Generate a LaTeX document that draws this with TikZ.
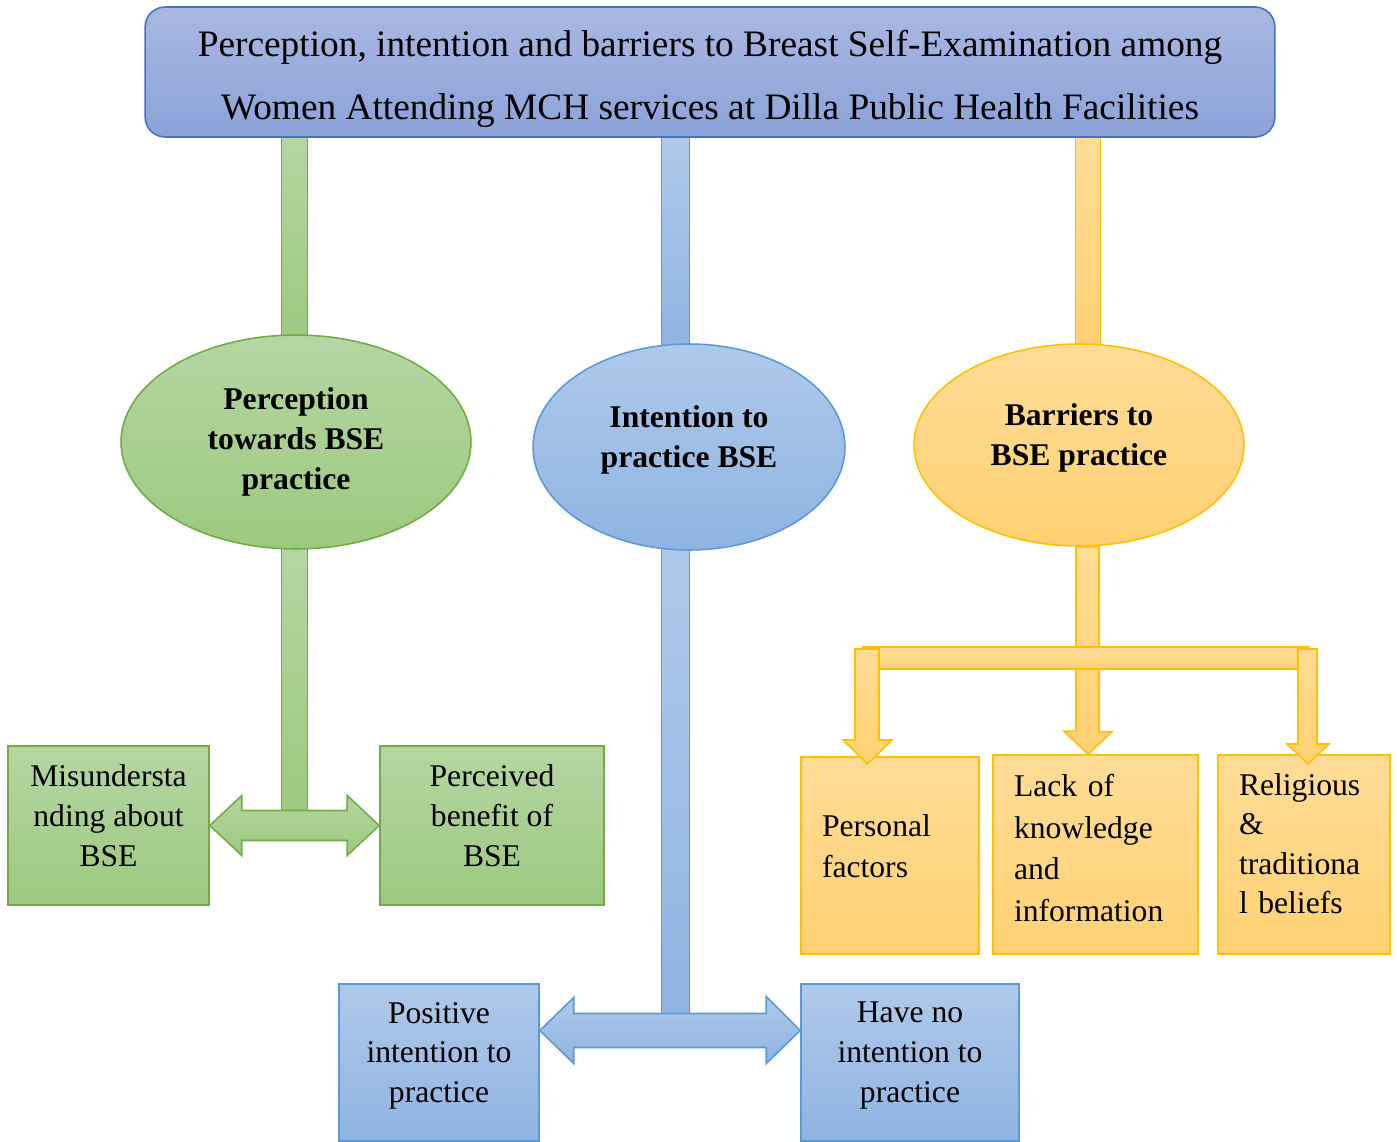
\documentclass[tikz,border=0pt]{standalone}
\usepackage{fontspec}
\setmainfont{Liberation Serif}
\usetikzlibrary{calc,backgrounds,shapes.geometric}

\definecolor{gline}{HTML}{70AD47}
\definecolor{gtop}{HTML}{B5D6A2}
\definecolor{gbot}{HTML}{9CC97F}
\definecolor{bline}{HTML}{5B9BD5}
\definecolor{btop}{HTML}{AFC9EA}
\definecolor{bbot}{HTML}{8FB4E2}
\definecolor{yline}{HTML}{FFC000}
\definecolor{ytop}{HTML}{FFDC97}
\definecolor{ybot}{HTML}{FFD173}
\definecolor{tline}{HTML}{4472C4}
\definecolor{ttop}{HTML}{A9B8E2}
\definecolor{tbot}{HTML}{8BA2D9}

\begin{document}
\begin{tikzpicture}[x=0.02cm,y=-0.02cm,line width=0.9pt,
    gfill/.style={draw=gline,top color=gtop,bottom color=gbot},
    bfill/.style={draw=bline,top color=btop,bottom color=bbot},
    yfill/.style={draw=yline,top color=ytop,bottom color=ybot},
    topic/.style={ellipse,inner sep=0pt,align=center,font=\fontsize{18}{22.7}\selectfont\bfseries},
    leaf/.style={rectangle,inner sep=0pt,align=center,text depth=11.4pt,
      font=\fontsize{18}{22.7}\selectfont},
    yleaf/.style={rectangle,yfill,inner xsep=12pt,inner ysep=0pt,align=left,
      minimum height=3.98cm,font=\fontsize{18}{23.7}\selectfont}]
  \useasboundingbox (0,0) rectangle (1397,1142);

  % title
  \node[draw=tline,top color=ttop,bottom color=tbot,rounded corners=0.4cm,
    minimum width=22.6cm,minimum height=2.6cm,align=center,text height=54pt,text depth=0pt,
    font=\fontsize{21.25}{35.7}\selectfont] (title) at (710,72)
    {Perception, intention and barriers to Breast Self-Examination among\\
     Women Attending MCH services at Dilla Public Health Facilities};

  % the three themes
  \node[topic,gfill,minimum width=7cm,minimum height=4.28cm] (perc) at (296,442)
    {Perception\\towards BSE\\practice};
  \node[topic,bfill,minimum width=6.24cm,minimum height=4.12cm,text depth=11.9pt] (intent) at (689,447)
    {Intention to\\practice BSE};
  \node[topic,yfill,minimum width=6.6cm,minimum height=4.04cm,text depth=11.9pt] (barr) at (1079,445)
    {Barriers to\\BSE practice};

  % sub-themes
  \node[leaf,gfill,minimum width=4.02cm,minimum height=3.18cm] (misu) at (108.5,825.5)
    {Misundersta\\nding about\\BSE};
  \node[leaf,gfill,minimum width=4.48cm,minimum height=3.18cm] (bene) at (492,825.5)
    {Perceived\\benefit of\\BSE};
  \node[leaf,bfill,minimum width=4cm,minimum height=3.14cm] (pos) at (439,1062.5)
    {Positive\\intention to\\practice};
  \node[leaf,bfill,minimum width=4.36cm,minimum height=3.14cm] (noint) at (910,1062.5)
    {Have no\\intention to\\practice};
  \node[yleaf,text width=2.72cm,minimum height=3.94cm,text depth=34.5pt] (pers) at (890,855.5)
    {Personal\\factors};
  \node[yleaf,text width=3.26cm,text depth=78.5pt] (lack) at (1095.5,854.5)
    {Lack of\\knowledge\\and\\information};
  \node[yleaf,text width=2.6cm,text depth=79.4pt,font=\fontsize{18}{22.3}\selectfont] (reli) at (1304,854.5)
    {Religious\\\&\\traditiona\\l beliefs};

  \coordinate (split) at (1086,658);

  \begin{scope}[on background layer]
    \draw[gfill] ($(title.south -| perc.north)+(-15,-5)$) rectangle ($(perc.north)+(11,5)$);
    \draw[gfill] ($(perc.south)+(-15,-5)$) rectangle ($(perc.south)+(11,261)$);
    \draw[bfill] ($(title.south -| intent.north)+(-28,-5)$) rectangle ($(intent.north)+(0,5)$);
    \draw[bfill] ($(intent.south)+(-28,-5)$) rectangle ($(intent.south)+(0,464)$);
    \draw[yfill] ($(title.south -| barr.north)+(-4,-5)$) rectangle ($(barr.north)+(21,5)$);
  \end{scope}

  % double arrows
  \draw[gfill] (misu.east) -- ++(32,-30) -- ++(0,15) -- ($(bene.west)+(-32,-15)$)
    -- ++(0,-15) -- (bene.west) -- ++(-32,30) -- ++(0,-15)
    -- ($(misu.east)+(32,15)$) -- ++(0,15) -- cycle;
  \draw[bfill] ($(pos.east)+(0,-32)$) -- ++(34,-33) -- ++(0,16) -- ($(noint.west)+(-34,-49)$)
    -- ++(0,-17) -- ($(noint.west)+(0,-32)$) -- ++(-34,33) -- ++(0,-16)
    -- ($(pos.east)+(34,-15)$) -- ++(0,16) -- cycle;

  % barriers split
  \draw[yfill] ($(barr.south)+(-3,0)$) -- ++(23,0) -- ++(0,185) -- ++(13,0)
    -- ($(lack.north)+(-7.5,0)$) -- ++(-24,-23) -- ++(12,0) -- cycle;
  \draw[yfill] ($(split)+(-223,-11)$) rectangle ($(split)+(223,11)$);
  \draw[yfill] ($(split)+(-231,-9)$) -- ++(24,0) -- ++(0,91) -- ++(13,0)
    -- ++(-24.5,24) -- ++(-24.5,-24) -- ++(12,0) -- cycle;
  \draw[yfill] ($(split)+(212,-9)$) -- ++(19,0) -- ++(0,95) -- ++(12,0)
    -- ++(-21,20) -- ++(-21,-20) -- ++(11,0) -- cycle;
\end{tikzpicture}
\end{document}
